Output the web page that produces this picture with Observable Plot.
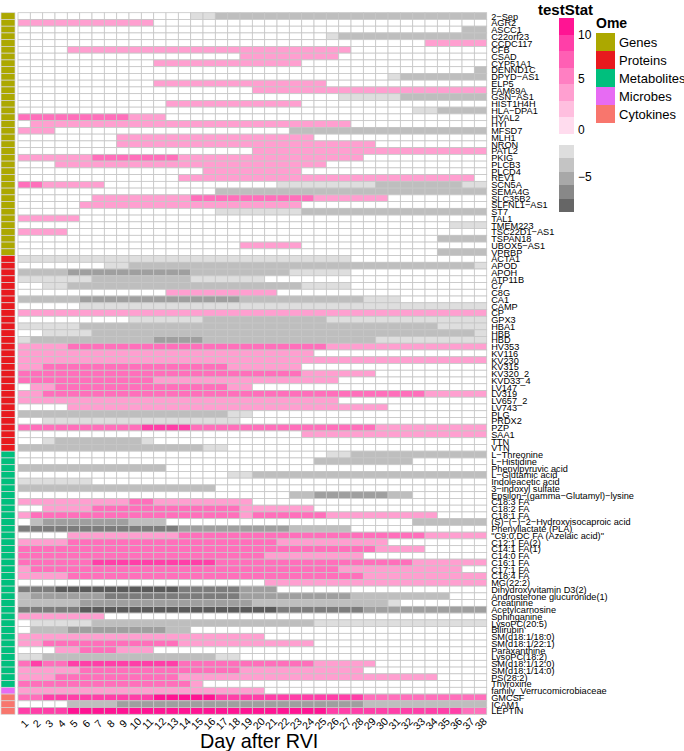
<!DOCTYPE html>
<html>
<head>
<meta charset="utf-8">
<script src="https://cdn.jsdelivr.net/npm/d3@7"></script>
<script src="https://cdn.jsdelivr.net/npm/@observablehq/plot@0.6"></script>
<style>
html,body{margin:0;padding:0;background:#fff;font-family:"Liberation Sans",Arial,sans-serif;}
#page{position:relative;width:684px;height:751px;overflow:hidden;}
#page svg{position:absolute;top:0;background:transparent;}
.lg{position:absolute;line-height:1;white-space:nowrap;color:#000;}
.sw{position:absolute;}
</style>
</head>
<body>
<div id="page"></div>
<script>
const days = d3.range(1, 39);
const geneLabels = ["2−Sep","AGR2","ASCC1","C22orf23","CCDC117","CFB","CSAD","CYP51A1","DENND1C","DPYD−AS1","ELP5","FAM69A","GSN−AS1","HIST1H4H","HLA−DPA1","HYAL2","HYI","MFSD7","MLH1","NRON","PATL2","PKIG","PLCB3","PLCD4","REV1","SCN5A","SEMA4G","SLC35B2","SLFNL1−AS1","ST7","TAL1","TMEM223","TSC22D1−AS1","TSPAN18","UBOX5−AS1","VPRBP"];
const geneRuns = ["15-16u 17-38v","1-11a","37-38v","26u 27-38v","34-38a","5-27a","19-26a","12-23a","38v","31u 32-38v","12-25a","20-38a","27-31u 32-38v","13-23a","33-34u 35-38v","1-9b 10-12a","2-27a","1-3a 23-38v","9-24a","9-29a","20-38a","1-6a 7-13b 14-28a","4-25a","16-23a","14-37a","1-2b 3-7a 22-29u 30-36v 37-38u","17-38v","7-14a 15-24b 25-30a","6-23a","17-23u 24-38v","1-5a","36-38u","1-4a","35-38v","19-23a","35-38v"];
const proteinLabels = ["ACTA1","APOD","APOH","ATP11B","C7","C8G","CA1","CAMP","CP","GPX3","HBA1","HBB","HBD","HV353","KV116","KV230","KV315","KV320_2","KVD33_4","LV147","LV319","LV657_2","LV743","PLG","PRDX2","PZP","SAA1","TTN","VTN"];
const proteinRuns = ["1-27u","8-9u 10-37v 38u","1-4v 5-14w 15-22v 23-27u","1-6u 7-14v 15-20u","3-4u 5-23v 24-27u","13-21a","1-5v 6-18w 19-28v 29-31u","6-38u","1-38a","10-15u 16-25v 26-38u","1-5u 6-34v 35-38u","3-6u 7-37v 38u","1u 2-11v 12-15w 16-29v 30-38u","1-4a 5-25b 26-38a","1-24a","1-38a","1-2a 3-17b 18-23a","1-23b 24-29a","1-11b 12-26a","2-3a 4-17b 18-19a","1-2a 3-33b 34-38a","1-26a","5-30a","1-17v 18-19u","3-18u","1-10b 11-14c 15-29b 30-38a","24-38a","3u 4-10v 11u","1-15v 16-17u"];
const metaboliteLabels = ["L−Threonine","L−Histidine","Phenylpyruvic acid","L−Glutamic acid","Indoleacetic acid","3−indoxyl sulfate","Epsilon−(gamma−Glutamyl)−lysine","C18:3 FA","C18:2 FA","C18:1 FA","(S)−(−)−2−Hydroxyisocaproic acid","Phenyllactate (PLA)","\"C9:0,DC FA (Azelaic acid)\"","C12:1 FA(2)","C14:1 FA(1)","C14:0 FA","C16:1 FA","C17:1 FA","C18:4 FA","MG(22:2)","Dihydroxyvitamin D3(2)","Androsterone glucuronide(1)","Creatinine","Acetylcarnosine","Sphinganine","LysoPC(20:5)","Bilirubin","SM(d18:1/18:0)","SM(d18:1/22:1)","Paraxanthine","LysoPC(18:2)","SM(d18:1/12:0)","SM(d18:1/14:0)","PS(28:2)","Thyroxine"];
const metaboliteRuns = ["26-27u 28-38v","25-32v","1-12v","18-19u 20-38v","1-6u","1-16v","23-24v 25-30w 31-32v","1-9a 10-11b 12-19a","3-6a 7-18b 19-24a","1a 2-18b 19a 20-25b 26-34a","2v 3-9w 10-12v 33-38v","1-13x 14-22w 23-27v","5-13a 14-33b 34-38a","1-4a 5-21b 22-30a","1-29b 30-33a","1-20b 21-28a","1-6b 7-16c 17-32b 33-38a","1a 2-26b 27-36a","1-4a 5-28b 29-38a","21-38a","1-3x 4-13y 14-18x 19-21w","1v 2-7w 8-18x 19-27w 28-35v","1-5v 6-19w 20-30v 31u","1-5x 6-21y 22-28x 29-38w","1-7a","2-6u 7-24v 25-38u","2-4v 5-12w 13-14v","1-20a","1-2a 3-13b 14-24a","4-5a 6-8b 9-11a","1-2u 3-16v 17-18u","1b 2c 3-4b 5-13c 14-24b 25-29a","1-5a 6-18b 19-28a","1-3a 4-13b 14-34a","1-14b 15a"];
const microbeLabels = ["family_Verrucomicrobiaceae"];
const microbeRuns = ["1-20a"];
const cytokineLabels = ["GMCSF","ICAM1","LEPTIN"];
const cytokineRuns = ["1-2b 3-11c 12-16d 17-28c 29-38b","5-8v 9-28w 29-38v","1-4c 5-25d 26-36c 37-38b"];

const levelValues = {u:-1.5, v:-3, w:-4.5, x:-5.5, y:-6.5, a:3, b:5.5, c:7.5, d:9.5};
const statThresholds = [-6,-5,-4,-2,0,2,4.5,6.5,8.5];
const statColors = ["#5a5a5a","#7c7c7c","#9f9f9f","#bebebe","#dedede","#ffffff","#ff9fd0","#ff6fbb","#ff3fa8","#ff1493"];

const omeNames = ["Genes","Proteins","Metabolites","Microbes","Cytokines"];
const omeColors = ["#aca800","#e8191e","#00bf7d","#e76bf3","#f8766d"];
const omeGroups = [
  [geneLabels, geneRuns], [proteinLabels, proteinRuns], [metaboliteLabels, metaboliteRuns],
  [microbeLabels, microbeRuns], [cytokineLabels, cytokineRuns]
];

const rows = [], cells = [], annotation = [];
omeGroups.forEach(([labels, runs], g) => {
  labels.forEach((label, i) => {
    rows.push(label);
    annotation.push({label, ome: omeNames[g]});
    const byDay = new Map();
    runs[i].split(" ").forEach(tok => {
      const m = tok.match(/^(\d+)(?:-(\d+))?([a-z])$/);
      const from = +m[1], to = m[2] ? +m[2] : from;
      for (let d = from; d <= to; d++) byDay.set(d, levelValues[m[3]]);
    });
    days.forEach(day => cells.push({label, day, stat: byDay.has(day) ? byDay.get(day) : 0}));
  });
});

const page = document.getElementById("page");
const MT = 12.7, MB = 36.7, H = 751;

const heat = Plot.plot({
  width: 666, height: H,
  marginLeft: 0, marginRight: 197.3, marginTop: MT, marginBottom: MB,
  style: {fontFamily: '"Liberation Sans",Arial,sans-serif', overflow: "visible", background: "transparent", color: "#000"},
  x: {type: "band", domain: days, padding: 0, round: false, axis: null},
  y: {type: "band", domain: rows, padding: 0, round: false, axis: null},
  color: {type: "threshold", domain: statThresholds, range: statColors},
  marks: [
    Plot.cell(cells, {x: "day", y: "label", fill: "stat", stroke: "#c6c6c6", strokeWidth: 0.8}),
    Plot.axisY({anchor: "right", tickSize: 0, tickPadding: 4, fontSize: 9.2, label: null, ariaLabel: "row labels"}),
    Plot.text(days, {x: d => d, frameAnchor: "bottom", lineAnchor: "middle", dy: 9, rotate: -45, fontSize: 10.5, text: d => String(d), fill: "#000"})
  ]
});
heat.style.left = "18px";
page.appendChild(heat);
// row labels in the reference are tall and narrow: condense the glyphs horizontally
heat.querySelectorAll('g[aria-label="row labels"] text').forEach(t => {
  t.setAttribute("textLength", (t.getComputedTextLength() * 0.84).toFixed(2));
  t.setAttribute("lengthAdjust", "spacingAndGlyphs");
});

const annot = Plot.plot({
  width: 18, height: H,
  marginLeft: 1, marginRight: 3, marginTop: MT, marginBottom: MB,
  style: {background: "transparent"},
  x: {type: "band", domain: ["Ome"], padding: 0, round: false, axis: null},
  y: {type: "band", domain: rows, padding: 0, round: false, axis: null},
  color: {type: "ordinal", domain: omeNames, range: omeColors},
  marks: [
    Plot.cell(annotation, {x: () => "Ome", y: "label", fill: "ome", stroke: "#d4d4d4", strokeWidth: 0.7})
  ]
});
annot.style.left = "0px";
page.appendChild(annot);

function addText(txt, left, cy, size, bold) {
  const el = document.createElement("div");
  el.className = "lg";
  el.textContent = txt;
  el.style.left = left + "px";
  el.style.top = (cy - size / 2) + "px";
  el.style.fontSize = size + "px";
  if (bold) el.style.fontWeight = "bold";
  page.appendChild(el);
}
function addSwatch(color, left, top, w, h) {
  const el = document.createElement("div");
  el.className = "sw";
  el.style.cssText += `left:${left}px;top:${top}px;width:${w}px;height:${h}px;background:${color};`;
  page.appendChild(el);
}

addText("Day after RVI", 200, 742, 19.8, false);
addText("testStat", 538, 9, 15, true);

const posLegend = ["#ff1493","#ff3fa8","#ff5fb4","#ff7fc2","#ff9fd0","#ffbfdf","#ffdcee"];
posLegend.forEach((c, i) => addSwatch(c, 559, 18 + i * 16.5, 15, 16.5));
[["10", 35], ["5", 79], ["0", 130]].forEach(([t, y]) => addText(t, 578, y, 12));
const negLegend = ["#dedede","#c4c4c4","#a8a8a8","#888888","#666666"];
negLegend.forEach((c, i) => addSwatch(c, 559, 145 + i * 13.4, 15, 13.4));
addText("−5", 578, 177, 12);

addText("Ome", 596, 23, 14, true);
omeNames.forEach((n, i) => {
  addSwatch(omeColors[i], 596, 33 + i * 18, 19, 18);
  addText(n, 619, 42 + i * 18, 13);
});
</script>
</body>
</html>
